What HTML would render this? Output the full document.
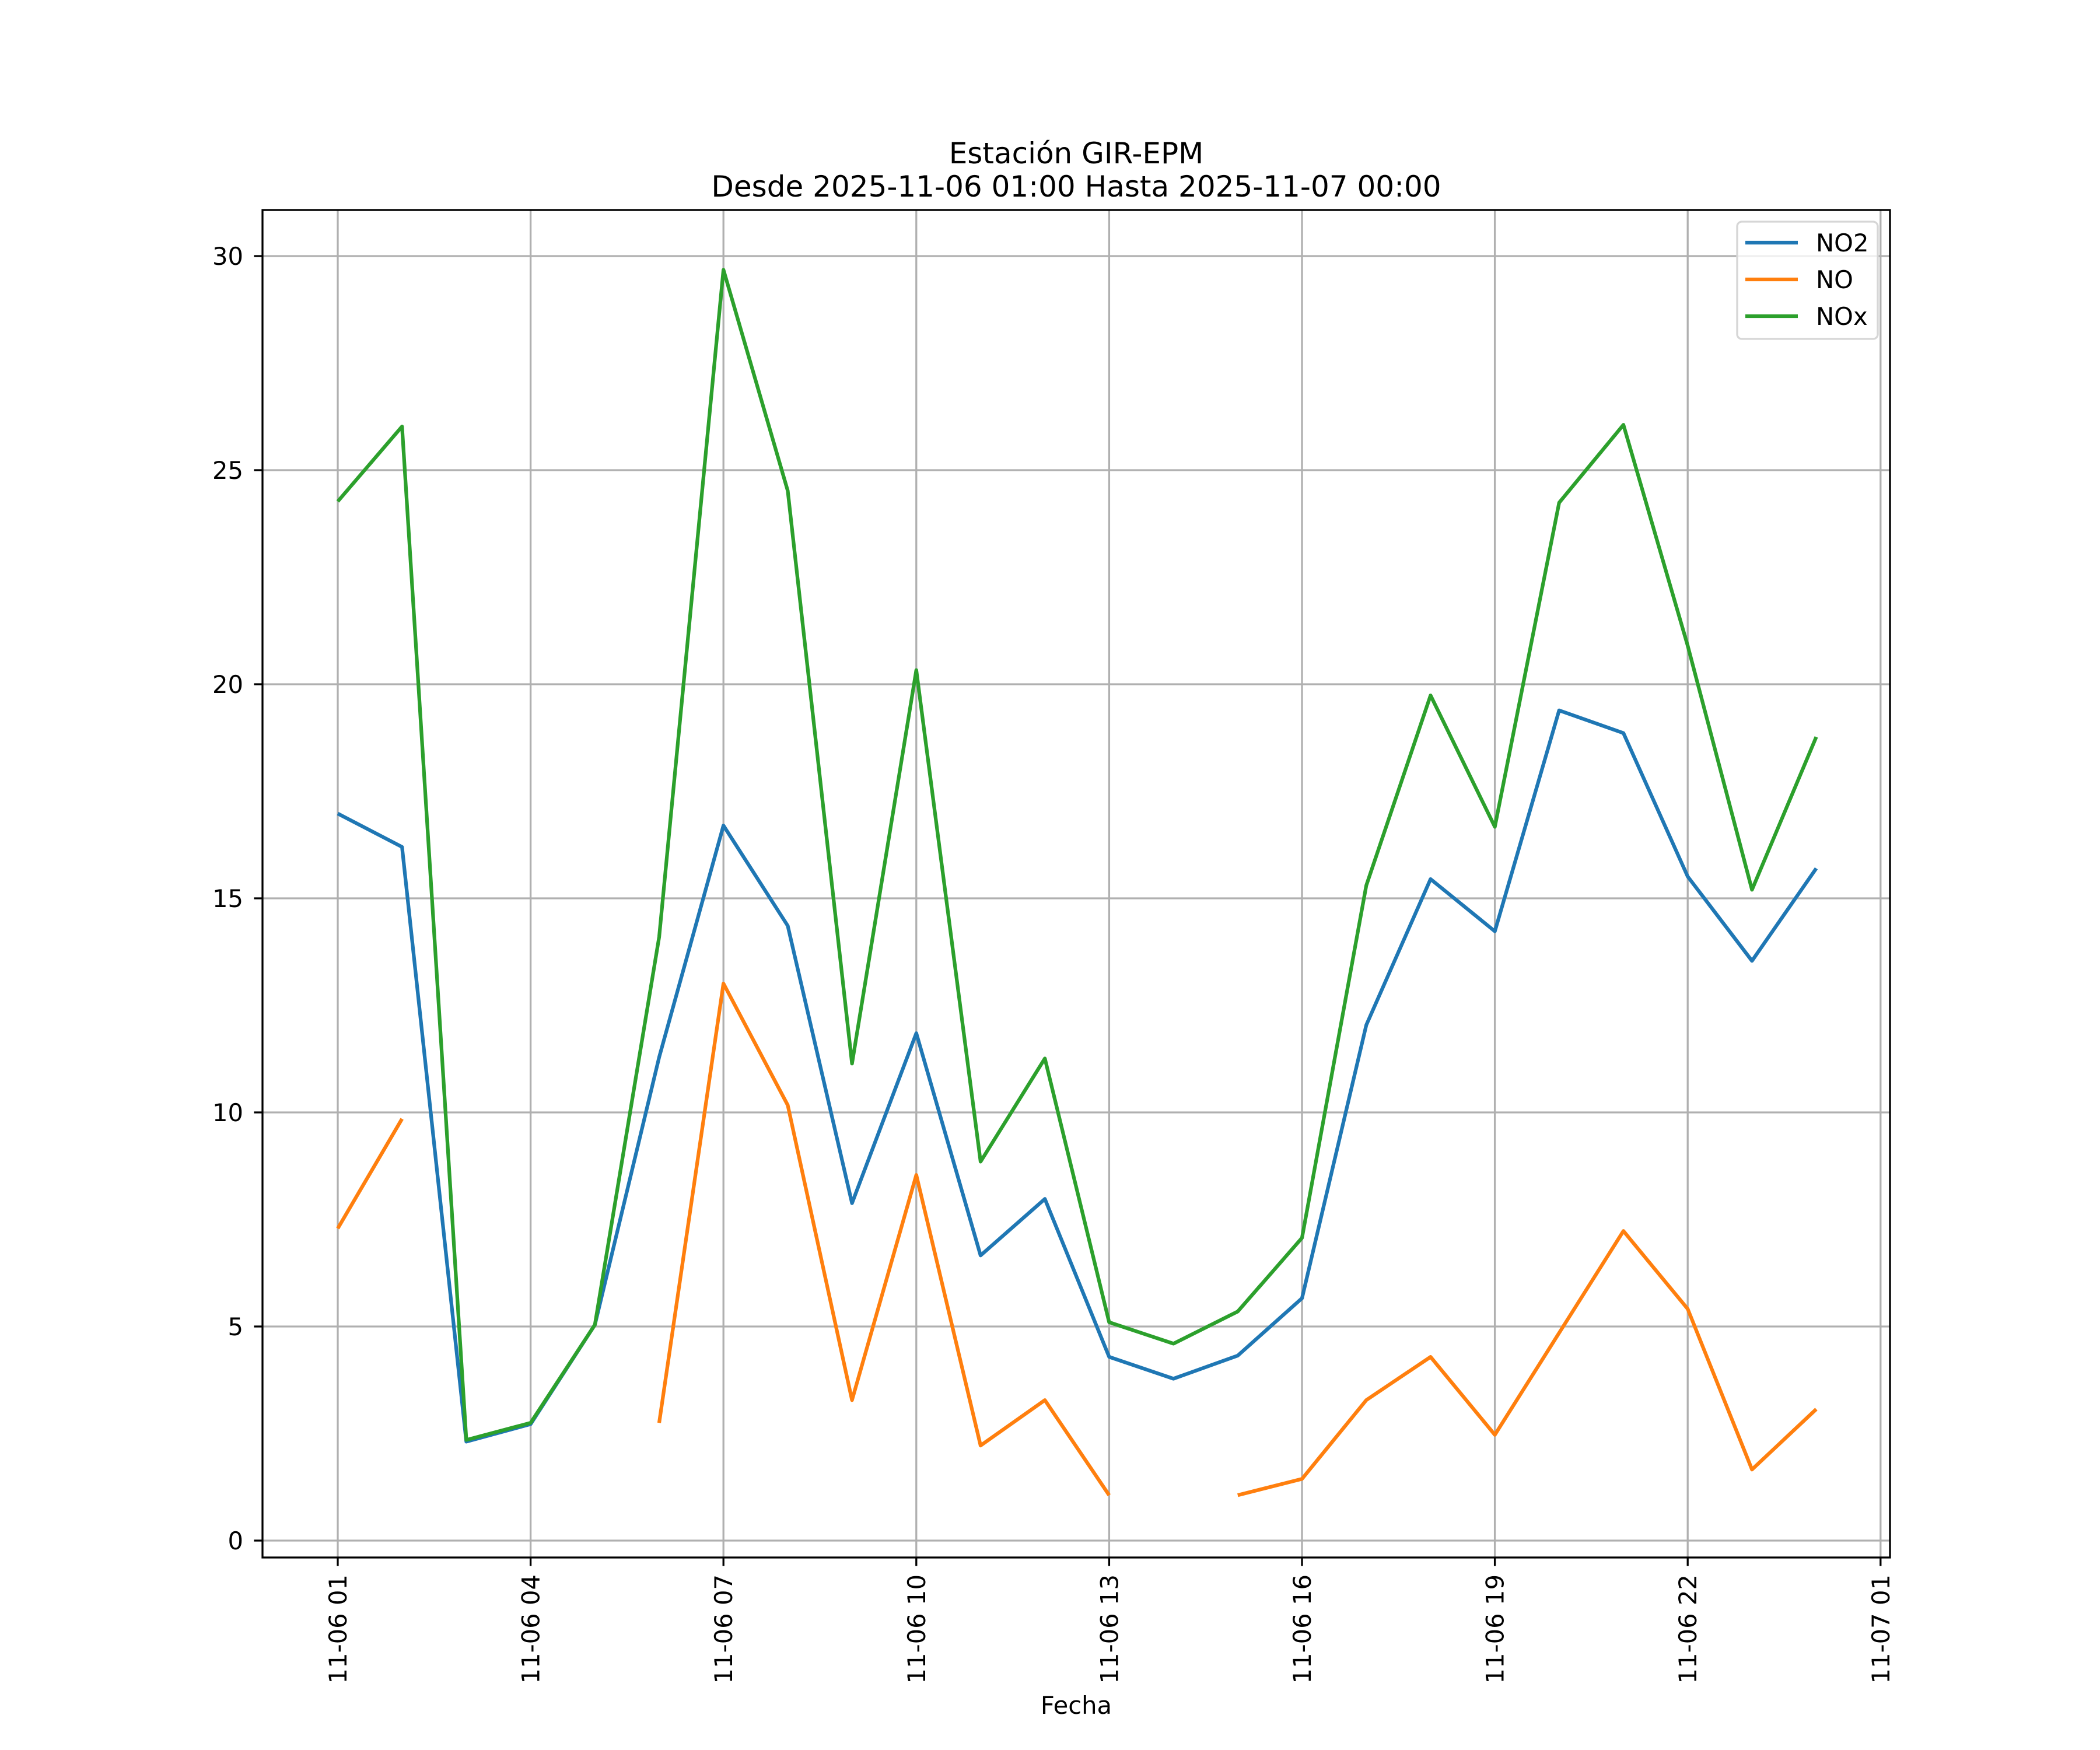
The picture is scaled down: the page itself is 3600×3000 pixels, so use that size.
<!DOCTYPE html>
<html><head><meta charset="utf-8"><style>
html,body{margin:0;padding:0;background:#fff;}
svg{display:block;font-family:"DejaVu Sans","Liberation Sans",sans-serif;}
</style></head><body>
<svg id="chart" xmlns="http://www.w3.org/2000/svg" width="3600" height="3000" viewBox="0 0 3600 3000">
<rect x="0" y="0" width="3600" height="3000" fill="#fff"/>
<text x="1845" y="280" font-size="50" text-anchor="middle">Estación GIR-EPM</text>
<text x="1845" y="337" font-size="50" text-anchor="middle">Desde 2025-11-06 01:00 Hasta 2025-11-07 00:00</text>
<g id="grid"></g>
<g id="series"></g>
<rect x="450" y="360" width="2790" height="2310" fill="none" stroke="#000" stroke-width="3.3"/>
<g id="ticks"></g>
<text x="1845" y="2938" font-size="41.7" text-anchor="middle">Fecha</text>
<g>
<rect x="2978" y="380" width="241" height="201" rx="8" fill="#fff" fill-opacity="0.8" stroke="#d6d6d6" stroke-width="3.3"/>
<line x1="2992" y1="416" x2="3082" y2="416" stroke="#1f77b4" stroke-width="6.25"/>
<text x="3113" y="431" font-size="41.7">NO2</text>
<line x1="2992" y1="479" x2="3082" y2="479" stroke="#ff7f0e" stroke-width="6.25"/>
<text x="3113" y="494" font-size="41.7">NO</text>
<line x1="2992" y1="542" x2="3082" y2="542" stroke="#2ca02c" stroke-width="6.25"/>
<text x="3113" y="557" font-size="41.7">NOx</text>
</g>
</svg>
<script>
const hours = [0,1,2,3,4,5,6,7,8,9,10,11,12,13,14,15,16,17,18,19,20,21,22,23];
const no2 = [16.98,16.2,2.31,2.72,5.04,11.29,16.7,14.36,7.88,11.85,6.66,7.98,4.29,3.78,4.32,5.66,12.04,15.45,14.23,19.39,18.86,15.51,13.54,15.7];
const no = [7.29,9.85,null,null,null,2.75,13.01,10.17,3.28,8.54,2.22,3.28,1.06,null,1.06,1.44,3.28,4.29,2.47,4.85,7.23,5.41,1.66,3.07];
const nox = [24.27,26.02,2.35,2.75,5.04,14.1,29.68,24.52,11.14,20.33,8.85,11.26,5.1,4.6,5.35,7.07,15.3,19.74,16.67,24.24,26.06,20.9,15.2,18.77];
const yTicks = [0,5,10,15,20,25,30];
const xTickHours = [0,3,6,9,12,15,18,21,24];
const xTickLabels = ["11-06 01","11-06 04","11-06 07","11-06 10","11-06 13","11-06 16","11-06 19","11-06 22","11-07 01"];

const NS = "http://www.w3.org/2000/svg";
function xs(h){ return 579 + h*110.2; }
function ys(v){ return 2641 - v*73.4; }
function mk(tag, attrs, parent){
  const e = document.createElementNS(NS, tag);
  for (const k in attrs) e.setAttribute(k, attrs[k]);
  parent.appendChild(e); return e;
}
const grid = document.getElementById('grid');
const ticks = document.getElementById('ticks');
const series = document.getElementById('series');

yTicks.forEach(v => {
  const g = mk('line',{x1:450,x2:3240,y1:ys(v),y2:ys(v),stroke:'#b0b0b0','stroke-width':3.3},grid);
  
  
  const t = mk('line',{x1:435.4,x2:450,y1:ys(v),y2:ys(v),stroke:'#000','stroke-width':3.3},ticks);
  
  
  const l = mk('text',{x:417,y:ys(v)+15,'font-size':41.7,'text-anchor':'end'},ticks);
  l.textContent = v;
  
  
});
xTickHours.forEach((h,i) => {
  const x = xs(h);
  const g = mk('line',{x1:x,x2:x,y1:360,y2:2670,stroke:'#b0b0b0','stroke-width':3.3},grid);
  
  
  const t = mk('line',{x1:x,x2:x,y1:2670,y2:2684.6,stroke:'#000','stroke-width':3.3},ticks);
  
  
  const l = mk('text',{x:0,y:0,'font-size':41.7,'text-anchor':'end',transform:'translate('+(x+15)+',2699) rotate(-90)'},ticks);
  l.textContent = xTickLabels[i];
  
  
});
function drawSeries(vals, color, name){
  let segs = [], cur = [];
  vals.forEach((v,i) => {
    if (v === null) { if (cur.length) segs.push(cur); cur = []; }
    else cur.push(xs(hours[i]).toFixed(1)+','+ys(v).toFixed(1));
  });
  if (cur.length) segs.push(cur);
  segs.forEach(s => {
    const p = mk('polyline',{points:s.join(' '),fill:'none',stroke:color,'stroke-width':6.25,'stroke-linejoin':'round','stroke-linecap':'butt'},series);
    
    
  });
}
drawSeries(no2,'#1f77b4','no2-line');
drawSeries(no,'#ff7f0e','no-line');
drawSeries(nox,'#2ca02c','nox-line');
</script>
</body></html>
